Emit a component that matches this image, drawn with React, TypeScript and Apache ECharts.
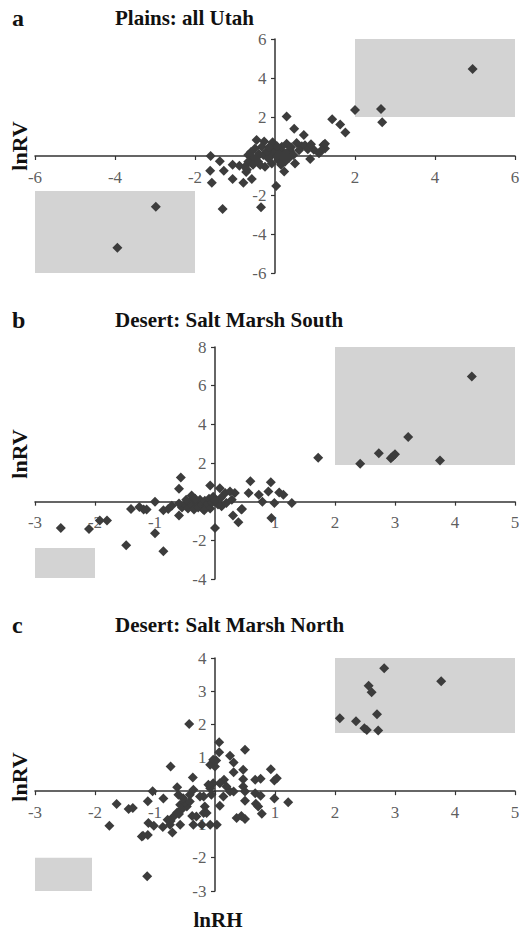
import React, { useEffect, useRef } from "react";
import * as echarts from "echarts";

// Panel a: Plains: all Utah  [lnRH, lnRV]
const plainsPoints: number[][] = [
  [4.94, 4.46], [2.0, 2.36], [2.65, 2.41], [2.68, 1.73], [1.43, 1.88], [1.63, 1.62], [1.76, 1.21],
  [0.29, 2.03], [0.48, 1.4], [0.72, 1.08], [0.97, 0.32], [0.88, -0.15], [1.21, 0.56], [1.25, 0.39],
  [1.17, 0.31], [1.1, 0.14], [1.25, 0.63], [-2.98, -2.6], [-3.94, -4.7], [-1.61, 0], [-1.62, -0.75],
  [-1.58, -1.37], [-1.38, -0.27], [-1.31, -2.72], [-1.28, -0.75], [-1.06, -0.45], [-1.06, -1.18],
  [-0.89, -0.5], [-0.79, -1.37], [-0.72, -0.82], [-0.58, -1.18], [-0.35, -2.63], [0.03, -1.54],
  [0.23, -0.8], [0.5, -0.38], [-0.46, 0.82], [-0.27, 0.74], [-0.06, 0.7], [0.29, 0.63], [0.54, 0.67],
  [0.67, 0.5], [0.38, 0.2], [-0.67, 0.05], [-0.54, -0.12], [-0.42, -0.29], [-0.29, 0.05], [-0.17, -0.12],
  [-0.12, 0.31], [0.12, 0.31], [0.25, 0.14], [0.37, 0.31], [0.46, 0.05], [-0.5, 0.39], [-0.33, 0.48],
  [-0.67, -0.29], [-0.75, -0.55], [-0.08, -0.38], [0.08, -0.2], [0.25, -0.29], [-0.25, -0.55],
  [-0.37, -0.46], [0.17, 0.48], [0, 0.31], [-0.08, 0.05], [0.04, -0.03], [-0.6, 0.2], [-0.4, 0.1],
  [-0.2, 0.25], [0.1, 0.1], [0.2, -0.05], [0.35, -0.1], [-0.45, -0.05], [0.6, 0.3], [0.75, 0.55],
  [0.82, 0.35], [-0.7, -0.7], [-0.55, -0.45], [0.05, 0.5], [0.15, -0.45], [-0.15, 0.45], [0.4, 0.45],
  [0.9, 0.6],
];

// Panel b: Desert: Salt Marsh South
const southPoints: number[][] = [
  [4.28, 6.48], [3.22, 3.35], [2.73, 2.51], [2.93, 2.25], [2.96, 2.33], [3.0, 2.45], [3.75, 2.13],
  [2.42, 1.96], [1.72, 2.27], [-2.57, -1.36], [-2.1, -1.41], [-1.92, -0.98], [-1.8, -0.98],
  [-1.48, -2.25], [-1.4, -0.38], [-1.26, -0.28], [-1.19, -0.41], [-1.14, -0.41], [-1.0, 0.0],
  [-1.0, -1.63], [-0.86, -2.56], [-0.86, -0.45], [-0.78, -0.38], [-0.72, -0.21], [-0.57, 1.25],
  [-0.6, 0.67], [-0.6, -0.72], [-0.39, 0.32], [-0.08, 0.84], [0.08, 0.7], [0.17, 0.45], [0.25, 0.53],
  [0.33, 0.45], [0.3, -0.72], [0.39, -1.07], [0.0, -1.36], [0.45, -0.38], [0.56, 0.45], [0.59, 1.05],
  [0.73, 0.36], [0.79, 0.0], [0.89, 0.53], [0.93, 1.0], [0.99, -0.07], [0.94, -0.84], [1.07, 0.48],
  [1.14, 0.36], [1.28, -0.07], [0.44, -0.41], [0.11, -0.24], [0.19, -0.07], [0.28, 0.1],
  [-0.55, -0.3], [-0.5, -0.15], [-0.45, -0.35], [-0.42, 0.0], [-0.38, -0.2], [-0.35, -0.4],
  [-0.3, -0.05], [-0.28, -0.3], [-0.25, 0.1], [-0.22, -0.15], [-0.2, -0.38], [-0.17, 0.05],
  [-0.15, -0.25], [-0.12, -0.1], [-0.1, 0.15], [-0.08, -0.35], [-0.05, -0.05], [-0.03, 0.25],
  [-0.6, -0.1], [-0.48, 0.1], [0.05, -0.15], [0.1, 0.2], [-0.33, 0.15], [-0.18, -0.45], [0.0, 0.05],
];

// Panel c: Desert: Salt Marsh North
const northPoints: number[][] = [
  [2.82, 3.69], [3.77, 3.3], [2.56, 3.17], [2.61, 2.97], [2.7, 2.31], [2.08, 2.19], [2.35, 2.1],
  [2.49, 1.89], [2.53, 1.84], [2.72, 1.82], [-0.43, 2.02], [-1.13, -2.56], [-1.76, -1.04],
  [-1.64, -0.39], [-1.44, -0.54], [-1.37, -0.51], [-1.22, -1.36], [-1.12, -1.32], [-1.04, 0],
  [-1.12, -0.3], [-0.86, -0.22], [-0.74, 0.74], [-0.71, -1.24], [-0.37, 0.41], [0.07, 1.47],
  [0.07, 1.17], [0.02, 0.92], [0, 0.74], [0.25, 1.06], [0.31, 0.86], [0.5, 1.24], [0.31, 0.57],
  [0.47, 0.64], [0.47, 0.36], [0.67, 0.34], [0.93, 0.66], [0.99, 0.32], [1.03, 0.39], [0.99, -0.22],
  [1.22, -0.33], [0.15, 0.34], [0.08, 0.24], [0.19, 0.14], [0.25, -0.01], [0.31, -0.01], [0.47, 0.14],
  [0.5, -0.01], [0.67, -0.06], [0.5, -0.29], [0.68, -0.38], [0.72, -0.46], [0.78, -0.68], [0.36, -0.81],
  [0.5, -0.84], [-0.08, -1.01], [0.03, -1.01], [0.08, -0.44], [0.14, -0.16], [-0.03, 0.24],
  [-0.08, 0.09], [-0.06, -0.11], [-0.19, -0.16], [-0.17, -0.46], [-0.19, -0.66], [-1.11, -0.96],
  [-1.02, -1.04], [-0.87, -1.08], [-0.75, -1.01], [-0.58, -1.01], [-0.79, -0.86], [-0.69, -0.76],
  [-0.63, -0.64], [-0.56, -0.56], [-0.47, -0.46], [-0.58, -0.41], [-0.5, -0.34], [-0.42, -0.31],
  [-0.63, 0.12], [-0.61, -0.11], [-0.53, -0.21], [-0.42, -0.11], [-0.36, 0.04], [-0.25, -0.16],
  [-0.14, -0.66], [-0.31, -0.76], [-0.36, -1.01], [-0.22, -1.01], [-0.08, 0.79], [-0.03, 0.94],
  [-0.11, 0.19], [-1.2, -1.34], [-0.38, -0.75], [-0.6, -0.69], [-0.74, -0.9], [0.44, -0.75],
  [0.76, 0.37], [0.76, -0.14],
];

// Shaded boxes: [xMin, yMax, xMax, yMin]
const plainsBoxes: number[][] = [[2, 6, 6, 2], [-6, -1.8, -2, -6]];
const southBoxes: number[][] = [[2, 8, 5, 1.9], [-3, -2.4, -2, -3.95]];
const northBoxes: number[][] = [[2, 4, 5, 1.75], [-3, -2, -2.05, -3]];

const panelLetters = ["a", "b", "c"];
const panelTitles = ["Plains: all Utah", "Desert: Salt Marsh South", "Desert: Salt Marsh North"];
const xRanges = [[-6, 6, 2], [-3, 5, 1], [-3, 5, 1]];
const yRanges = [[-6, 6, 2], [-4, 8, 2], [-3, 4, 1]];
// tick labels (0 is not labelled in the figure)
const xTickLabels = [[-6, -4, -2, 2, 4, 6], [-3, -2, -1, 1, 2, 3, 4, 5], [-3, -2, -1, 1, 2, 3, 4, 5]];
const yTickLabels = [[-6, -4, -2, 2, 4, 6], [-4, -2, 2, 4, 6, 8], [-3, -2, -1, 1, 2, 3, 4]];
const yAxisName = "lnRV";
const xAxisName = "lnRH";

const SERIF = "Liberation Serif";

export default function App() {
  const ref = useRef<HTMLDivElement>(null);

  useEffect(() => {
    if (!ref.current) return;
    const chart = echarts.init(ref.current, undefined, { renderer: "svg" });

    const gridLeft = 35;
    const gridWidth = 480;
    const gridTops = [39, 347, 658];
    const gridHeights = [234, 232, 233];
    const allPoints = [plainsPoints, southPoints, northPoints];
    const allBoxes = [plainsBoxes, southBoxes, northBoxes];

    const grids = gridTops.map((t, i) => ({ left: gridLeft, width: gridWidth, top: t, height: gridHeights[i] }));

    const axisLine = { onZero: true, lineStyle: { color: "#333", width: 1.5 } };
    const tick = { show: true, length: 4, lineStyle: { color: "#333", width: 1.2 } };

    const xAxes = xRanges.map((r, i) => ({
      type: "value",
      gridIndex: i,
      min: r[0],
      max: r[1],
      interval: r[2],
      axisLine,
      axisTick: tick,
      splitLine: { show: false },
      axisLabel: { show: false },
    }));
    const yAxes = yRanges.map((r, i) => ({
      type: "value",
      gridIndex: i,
      min: r[0],
      max: r[1],
      interval: r[2],
      axisLine,
      axisTick: tick,
      splitLine: { show: false },
      axisLabel: { show: false },
    }));

    const labelStyle = { show: true, fontFamily: SERIF, fontSize: 17, color: "#333" };

    const series: any[] = [];
    allBoxes.forEach((boxes, i) => {
      series.push({
        type: "scatter",
        xAxisIndex: i,
        yAxisIndex: i,
        data: [],
        z: 1,
        silent: true,
        markArea: {
          silent: true,
          itemStyle: { color: "#d3d3d3" },
          data: boxes.map((b) => [{ coord: [b[0], b[1]] }, { coord: [b[2], b[3]] }]),
        },
      });
    });
    // tick labels placed at the axes crossing at zero
    xTickLabels.forEach((ticks, i) => {
      series.push({
        type: "scatter",
        xAxisIndex: i,
        yAxisIndex: i,
        silent: true,
        z: 3,
        symbolSize: 1,
        itemStyle: { color: "rgba(0,0,0,0)" },
        data: ticks.map((v) => [v, 0]),
        label: { ...labelStyle, position: "bottom", distance: 12, formatter: (p: any) => String(p.value[0]) },
      });
    });
    yTickLabels.forEach((ticks, i) => {
      series.push({
        type: "scatter",
        xAxisIndex: i,
        yAxisIndex: i,
        silent: true,
        z: 3,
        symbolSize: 1,
        itemStyle: { color: "rgba(0,0,0,0)" },
        data: ticks.map((v) => [0, v]),
        label: { ...labelStyle, position: "left", distance: 8, formatter: (p: any) => String(p.value[1]) },
      });
    });
    allPoints.forEach((pts, i) => {
      series.push({
        type: "scatter",
        xAxisIndex: i,
        yAxisIndex: i,
        data: pts,
        symbol: "diamond",
        symbolSize: 10,
        z: 5,
        itemStyle: { color: "#3c3c3c", opacity: 1 },
      });
    });

    const titleTops = [18, 320, 625];
    const rvCenters = [146, 454, 777];
    const graphic: any[] = [];
    titleTops.forEach((y, i) => {
      graphic.push({
        type: "text",
        x: 12,
        y,
        style: { text: panelLetters[i], font: `bold 24px ${SERIF}`, fill: "#111", textVerticalAlign: "middle" },
      });
      graphic.push({
        type: "text",
        x: 115,
        y,
        style: { text: panelTitles[i], font: `bold 21px ${SERIF}`, fill: "#111", textVerticalAlign: "middle" },
      });
      graphic.push({
        type: "text",
        x: 19,
        y: rvCenters[i],
        rotation: Math.PI / 2,
        style: { text: yAxisName, font: `bold 22px ${SERIF}`, fill: "#111", textAlign: "center", textVerticalAlign: "middle" },
      });
    });
    graphic.push({
      type: "text",
      x: 218,
      y: 920,
      style: { text: xAxisName, font: `bold 21px ${SERIF}`, fill: "#111", textAlign: "center", textVerticalAlign: "middle" },
    });

    chart.setOption({
      animation: false,
      backgroundColor: "#fff",
      textStyle: { fontFamily: SERIF },
      grid: grids,
      xAxis: xAxes,
      yAxis: yAxes,
      series,
      graphic,
    });

    return () => chart.dispose();
  }, []);

  return <div ref={ref} style={{ position: "fixed", left: 0, top: 0, width: 522, height: 934 }} />;
}
